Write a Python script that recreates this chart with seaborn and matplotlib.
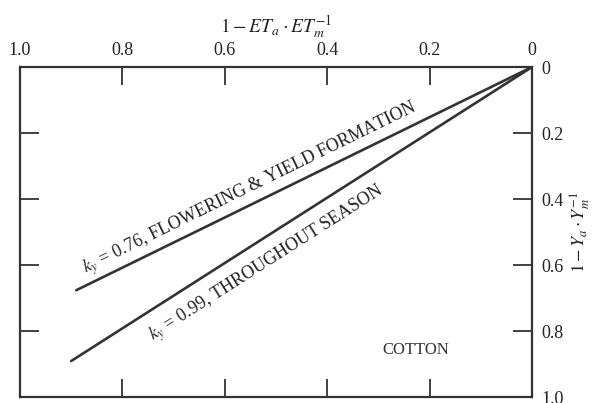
import numpy as np
import pandas as pd
import matplotlib
matplotlib.use("Agg")
import matplotlib.pyplot as plt
import seaborn as sns

# Data
ky_values = [0.76, 0.99]
line_names = ["FLOWERING & YIELD FORMATION", "THROUGHOUT SEASON"]
x_start = [0.0, 0.0]
x_end = [0.89, 0.90]
tick_vals = [0.0, 0.2, 0.4, 0.6, 0.8, 1.0]
tick_labels = ["0", "0.2", "0.4", "0.6", "0.8", "1.0"]
x_tick_labels = ["0", "0.2", "0.4", "0.6", "0.8", "1.0"]
crop_label = "COTTON"

rows = []
for k, name, xs, xe in zip(ky_values, line_names, x_start, x_end):
    for xv in (xs, xe):
        rows.append({"et": xv, "y": k * xv, "series": name})
df = pd.DataFrame(rows)

sns.set_style("ticks")
plt.rcParams["font.family"] = ["Liberation Serif", "DejaVu Serif"]
plt.rcParams["mathtext.fontset"] = "stix"

ink = "#333333"
fig = plt.figure(figsize=(5.92, 4.03), dpi=100)
ax = fig.add_axes([20 / 592, 6 / 403, 512 / 592, 330 / 403])

sns.lineplot(data=df, x="et", y="y", units="series", estimator=None,
             color=ink, linewidth=1.9, ax=ax, legend=False)

ax.set_xlim(1.0, 0.0)
ax.set_ylim(1.0, 0.0)

for s in ax.spines.values():
    s.set_visible(True)
    s.set_linewidth(1.6)
    s.set_color(ink)

ax.set_xticks(tick_vals)
ax.set_xticklabels(x_tick_labels)
ax.set_yticks(tick_vals)
ax.set_yticklabels(tick_labels)
ax.tick_params(axis="x", which="both", direction="in", length=13, width=1.3,
               color=ink, top=True, bottom=True, labeltop=True,
               labelbottom=False, labelsize=13, pad=6, labelcolor="#222222")
ax.tick_params(axis="y", which="both", direction="in", length=14, width=1.3,
               color=ink, left=True, right=True, labelleft=False,
               labelright=True, labelsize=13, pad=7, labelcolor="#222222")
ax.xaxis.set_label_position("top")
ax.yaxis.set_label_position("right")
ax.set_xlabel(r"$1-ET_a\cdot ET_m^{-1}$", fontsize=14, labelpad=6, color="#222222")
ax.set_ylabel(r"$1-Y_a\cdot Y_m^{-1}$", fontsize=13, labelpad=3, color="#222222",
              rotation=90)

fig.canvas.draw()

def screen_angle(k):
    p0 = ax.transData.transform((0.0, 0.0))
    p1 = ax.transData.transform((0.8, 0.8 * k))
    return np.degrees(np.arctan2(p1[1] - p0[1], p1[0] - p0[0])) + 180.0

# label along upper line (above it)
a0 = screen_angle(ky_values[0])
ax.text(0.865, ky_values[0] * 0.865 - 0.012,
        r"$k_y$" + f" = {ky_values[0]:.2f}, {line_names[0]}",
        rotation=a0, rotation_mode="anchor", ha="left", va="bottom",
        fontsize=13, color="#222222")
# label along lower line (below it)
a1 = screen_angle(ky_values[1])
ax.text(0.756, ky_values[1] * 0.756 + 0.042,
        r"$k_y$" + f" = {ky_values[1]:.2f}, {line_names[1]}",
        rotation=a1, rotation_mode="anchor", ha="left", va="top",
        fontsize=13, color="#222222")

ax.text(0.227, 0.858, crop_label, ha="center", va="center", fontsize=12,
        color="#333333")

fig.savefig("out.png", dpi=100)
